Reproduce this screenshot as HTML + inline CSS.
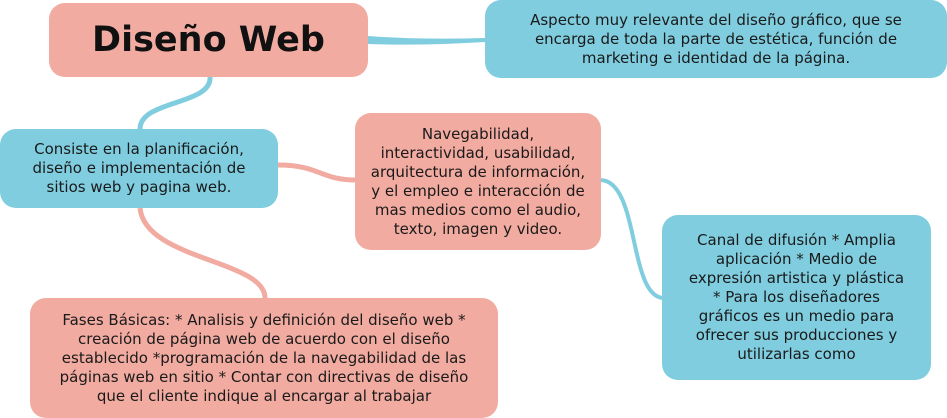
<!DOCTYPE html>
<html><head><meta charset="utf-8"><style>
body{margin:0;width:947px;height:418px;background:#fff;position:relative;overflow:hidden;font-family:"DejaVu Sans","Liberation Sans",sans-serif;}
.b{position:absolute;border-radius:16px;display:flex;align-items:center;justify-content:center;text-align:center;color:#1a1a1a;font-size:15px;line-height:19px;white-space:nowrap;letter-spacing:0}
.p{background:#F1ABA1}.c{background:#7FCDDF}
svg{position:absolute;left:0;top:0}
</style></head><body>
<svg width="947" height="418">
<path d="M368 36 Q420 40 485 38 L485 42 Q420 46 368 44 Z" fill="#7FCDDF"/>
<path d="M210 77 C212 105 140 100 140 129" stroke="#7FCDDF" stroke-width="5" fill="none"/>
<path d="M278 165 C320 165 320 180 356 180" stroke="#F1ABA1" stroke-width="5" fill="none"/>
<path d="M140 208 C145 260 265 260 265 298" stroke="#F1ABA1" stroke-width="5" fill="none"/>
<path d="M600 180 C640 180 628 298 664 298" stroke="#7FCDDF" stroke-width="4" fill="none"/>
</svg>
<div class="b p" style="left:49px;top:3px;width:319px;height:74px;font-size:35px;font-weight:bold;color:#111;letter-spacing:0">Diseño Web</div>
<div class="b c" style="left:485px;top:0;width:462px;height:78px">Aspecto muy relevante del diseño gráfico, que se<br>encarga de toda la parte de estética, función de<br>marketing e identidad de la página.</div>
<div class="b c" style="left:0;top:129px;width:278px;height:79px">Consiste en la planificación,<br>diseño e implementación de<br>sitios web y pagina web.</div>
<div class="b p" style="left:355px;top:113px;width:246px;height:137px">Navegabilidad,<br>interactividad, usabilidad,<br>arquitectura de información,<br>y el empleo e interacción de<br>mas medios como el audio,<br>texto, imagen y video.</div>
<div class="b c" style="left:662px;top:215px;width:269px;height:165px">Canal de difusión * Amplia<br>aplicación * Medio de<br>expresión artistica y plástica<br>* Para los diseñadores<br>gráficos es un medio para<br>ofrecer sus producciones y<br>utilizarlas como</div>
<div class="b p" style="left:30px;top:298px;width:468px;height:120px">Fases Básicas: * Analisis y definición del diseño web *<br>creación de página web de acuerdo con el diseño<br>establecido *programación de la navegabilidad de las<br>páginas web en sitio * Contar con directivas de diseño<br>que el cliente indique al encargar al trabajar</div>
</body></html>
